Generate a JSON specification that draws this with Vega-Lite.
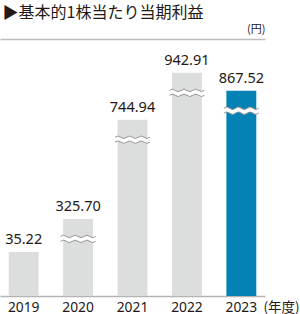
{
  "$schema": "https://vega.github.io/schema/vega-lite/v6.json",
  "autosize": "none",
  "width": 265,
  "height": 257,
  "padding": {"left": 0, "top": 39, "right": 35, "bottom": 18},
  "background": "white",
  "config": {"view": {"stroke": null}},
  "data": {
    "values": [
      {"year": "2019", "value": 35.22, "bar": 186},
      {"year": "2020", "value": 325.70, "bar": 325.70},
      {"year": "2021", "value": 744.94, "bar": 744.94},
      {"year": "2022", "value": 942.91, "bar": 942.91},
      {"year": "2023", "value": 867.52, "bar": 867.52}
    ]
  },
  "resolve": {"axis": {"y": "independent"}},
  "encoding": {
    "x": {
      "field": "year",
      "type": "ordinal",
      "scale": {"paddingInner": 0.45, "paddingOuter": 0.16},
      "axis": {
        "orient": "bottom",
        "domain": true,
        "domainColor": "#b4b4b4",
        "domainWidth": 1.5,
        "ticks": false,
        "tickSize": 0,
        "labelAngle": 0,
        "labelPadding": 15,
        "labelBaseline": "alphabetic",
        "labelFont": "Noto Sans",
        "labelFontSize": 13.8,
        "labelColor": "#231815",
        "title": "(年度)",
        "titleFont": "Noto Sans CJK JP",
        "titleFontSize": 13.5,
        "titleFontWeight": "normal",
        "titleColor": "#231815",
        "titleAlign": "left",
        "titleBaseline": "alphabetic",
        "titleAnchor": "start",
        "titleX": 263,
        "titleY": 15
      }
    }
  },
  "layer": [
    {
      "mark": {"type": "bar"},
      "encoding": {
        "y": {
          "field": "bar",
          "type": "quantitative",
          "scale": {"domain": [0, 1086], "nice": false, "zero": true},
          "axis": {
            "orient": "left",
            "domain": false,
            "ticks": false,
            "labels": false,
            "grid": false,
            "title": "▶基本的1株当たり当期利益",
            "titleAngle": 0,
            "titleFont": "Noto Sans CJK JP",
            "titleFontSize": 16,
            "titleFontWeight": "normal",
            "titleColor": "#231815",
            "titleAlign": "left",
            "titleBaseline": "alphabetic",
            "titleX": 2,
            "titleY": -22
          }
        },
        "color": {
          "condition": {"test": "datum.year === '2023'", "value": "#0481b5"},
          "value": "#dcdddd"
        }
      }
    },
    {
      "transform": [{"filter": "datum.year !== '2019'"}],
      "mark": {
        "type": "point",
        "shape": "M-1,-0.14 Q-0.833,-0.28 -0.667,-0.14 Q-0.5,0 -0.333,-0.14 Q-0.167,-0.28 0,-0.14 Q0.167,0 0.333,-0.14 Q0.5,-0.28 0.667,-0.14 Q0.833,0 1,-0.14 L1,0.14 Q0.833,0.28 0.667,0.14 Q0.5,0 0.333,0.14 Q0.167,0.28 0,0.14 Q-0.167,0 -0.333,0.14 Q-0.5,0.28 -0.667,0.14 Q-0.833,0 -1,0.14 Z",
        "filled": true,
        "fill": "white",
        "strokeWidth": 0,
        "opacity": 1,
        "size": 1225,
        "yOffset": 20
      },
      "encoding": {
        "y": {"field": "bar", "type": "quantitative", "axis": null}
      }
    },
    {
      "transform": [{"filter": "datum.year !== '2019'"}],
      "mark": {
        "type": "point",
        "shape": "M-1,-0.14 Q-0.833,-0.28 -0.667,-0.14 Q-0.5,0 -0.333,-0.14 Q-0.167,-0.28 0,-0.14 Q0.167,0 0.333,-0.14 Q0.5,-0.28 0.667,-0.14 Q0.833,0 1,-0.14 M-1,0.14 Q-0.833,0 -0.667,0.14 Q-0.5,0.28 -0.333,0.14 Q-0.167,0 0,0.14 Q0.167,0.28 0.333,0.14 Q0.5,0 0.667,0.14 Q0.833,0.28 1,0.14",
        "filled": false,
        "stroke": "#8a8a8a",
        "strokeWidth": 0.9,
        "opacity": 1,
        "size": 1225,
        "yOffset": 20
      },
      "encoding": {
        "y": {"field": "bar", "type": "quantitative", "axis": null}
      }
    },
    {
      "mark": {
        "type": "text",
        "baseline": "alphabetic",
        "dy": -8,
        "font": "Noto Sans",
        "fontSize": 14.5,
        "color": "#231815"
      },
      "encoding": {
        "y": {
          "field": "bar",
          "type": "quantitative",
          "axis": {
            "orient": "right",
            "domain": false,
            "ticks": false,
            "labels": false,
            "grid": true,
            "values": [1086],
            "gridColor": "#bdbdbd",
            "gridWidth": 1.5,
            "title": "(円)",
            "titleAngle": 0,
            "titleFont": "Noto Sans CJK JP",
            "titleFontSize": 11,
            "titleFontWeight": "normal",
            "titleColor": "#231815",
            "titleAlign": "right",
            "titleBaseline": "alphabetic",
            "titleX": 0,
            "titleY": -7
          }
        },
        "text": {"field": "value", "type": "quantitative", "format": ".2f"}
      }
    }
  ]
}
